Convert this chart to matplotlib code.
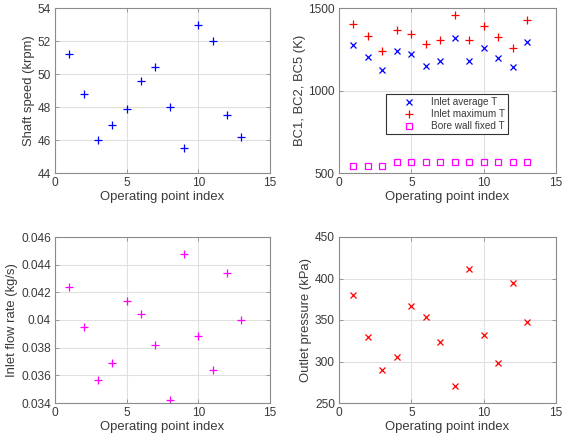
import numpy as np
import matplotlib.pyplot as plt

plt.rcParams['font.family'] = ['Liberation Sans', 'DejaVu Sans']

idx = np.arange(1, 14)
shaft_speed = [51.2, 48.8, 46.0, 46.9, 47.9, 49.6, 50.4, 48.0, 45.5, 53.0, 52.0, 47.5, 46.2]
inlet_avg_T = [1275, 1204, 1122, 1242, 1224, 1148, 1176, 1319, 1176, 1259, 1200, 1142, 1295]
inlet_max_T = [1405, 1329, 1238, 1365, 1345, 1281, 1305, 1456, 1305, 1391, 1325, 1259, 1430]
bore_wall_T = [544, 544, 544, 564, 564, 564, 564, 564, 564, 564, 564, 564, 564]
inlet_flow = [0.0424, 0.03947, 0.03565, 0.0369, 0.0414, 0.0404, 0.0382, 0.0342,
              0.04477, 0.03882, 0.03637, 0.04341, 0.0400]
outlet_p = [380, 329, 290, 306, 367, 354, 323, 271, 412, 332, 298, 394, 348]

fig = plt.figure(figsize=(5.62, 4.41), dpi=100)
W, H = 562, 441
txt = '#3a3a3a'


def make_ax(l, r, t, b):
    ax = fig.add_axes([l / W, 1 - b / H, (r - l) / W, (b - t) / H])
    for s in ax.spines.values():
        s.set_color('#8c8c8c')
        s.set_linewidth(0.8)
    ax.tick_params(direction='in', length=3, width=0.6, colors='#8c8c8c',
                   labelcolor=txt, labelsize=8.6, top=True, right=True, pad=3)
    ax.grid(True, color='#e0e0e0', linewidth=0.8)
    ax.set_axisbelow(True)
    ax.set_xlim(0, 15)
    ax.set_xticks([0, 5, 10, 15])
    ax.set_xlabel('Operating point index', fontsize=9.4, color=txt, labelpad=1)
    return ax


ax1 = make_ax(55, 270, 8, 173)
ax1.plot(idx, shaft_speed, '+', color='blue', ms=5.8, mew=0.9)
ax1.set_ylim(44, 54)
ax1.set_yticks([44, 46, 48, 50, 52, 54])
ax1.set_ylabel('Shaft speed (krpm)', fontsize=9.4, color=txt, labelpad=2)

ax2 = make_ax(339, 556, 8, 173)
ax2.plot(idx, inlet_avg_T, 'x', color='blue', ms=4.8, mew=0.9, label='Inlet average T')
ax2.plot(idx, inlet_max_T, '+', color='red', ms=5.8, mew=0.9, label='Inlet maximum T')
ax2.plot(idx, bore_wall_T, 's', color='magenta', mfc='none', ms=4.3, mew=0.9,
         label='Bore wall fixed T')
ax2.set_ylim(500, 1500)
ax2.set_yticks([500, 1000, 1500])
ax2.set_ylabel('BC1, BC2, BC5 (K)', fontsize=9.4, color=txt, labelpad=2)
leg = ax2.legend(loc='upper left', bbox_to_anchor=(47 / 217, 1 - 86 / 165), fontsize=7.2,
                 frameon=True, fancybox=False, edgecolor='#333333', framealpha=1,
                 handletextpad=0.2, borderpad=0.3, labelspacing=0.2, handlelength=4.0,
                 borderaxespad=0)
leg.get_frame().set_linewidth(0.8)
for t in leg.get_texts():
    t.set_color(txt)

ax3 = make_ax(55, 270, 237, 403)
ax3.plot(idx, inlet_flow, '+', color='magenta', ms=5.8, mew=0.9)
ax3.set_ylim(0.034, 0.046)
ax3.set_yticks([0.034, 0.036, 0.038, 0.04, 0.042, 0.044, 0.046])
ax3.set_yticklabels(['0.034', '0.036', '0.038', '0.04', '0.042', '0.044', '0.046'])
ax3.set_ylabel('Inlet flow rate (kg/s)', fontsize=9.4, color=txt, labelpad=2)

ax4 = make_ax(339, 556, 237, 403)
ax4.plot(idx, outlet_p, 'x', color='red', ms=4.8, mew=0.9)
ax4.set_ylim(250, 450)
ax4.set_yticks([250, 300, 350, 400, 450])
ax4.set_ylabel('Outlet pressure (kPa)', fontsize=9.4, color=txt, labelpad=2)

fig.savefig('out.png', dpi=100)
